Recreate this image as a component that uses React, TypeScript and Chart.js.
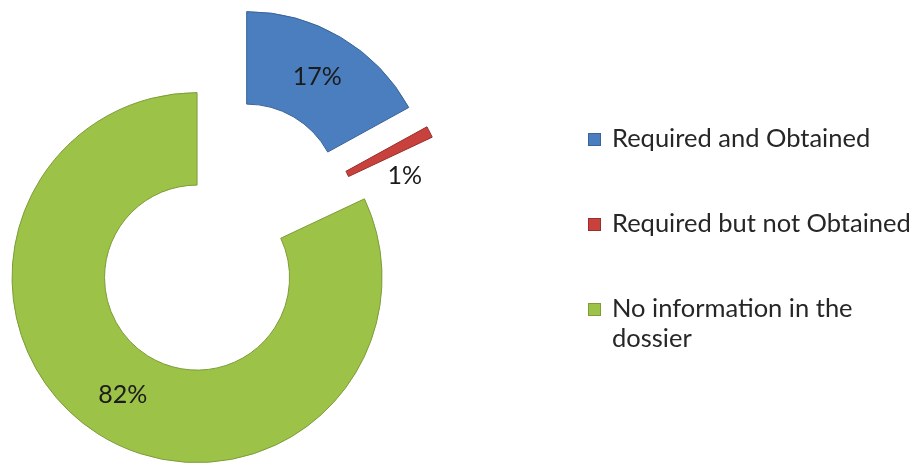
import React, { useEffect, useRef } from 'react';
import { Chart, registerables } from 'chart.js';

Chart.register(...registerables);

// ---- data ----
const categories = ['Required and Obtained', 'Required but not Obtained', 'No information in the dossier'];
const legendLines = [['Required and Obtained'], ['Required but not Obtained'], ['No information in the', 'dossier']];
const values = [17, 1, 82];
const valueLabels = ['17%', '1%', '82%'];

// ---- style ----
const colors = ['#4A7EBF', '#C9413C', '#9DC248'];
const borders = ['#3A6499', '#97302C', '#7C9C38'];
const EXPLODE = 47.5;
const FONT = 'Lato, "Open Sans", sans-serif';

const explodePlugin = {
  id: 'explode',
  afterDatasetUpdate(chart: any, args: any) {
    const meta = chart.getDatasetMeta(args.index);
    meta.data.forEach((arc: any) => {
      const mid = (arc.startAngle + arc.endAngle) / 2;
      arc.x += Math.cos(mid) * EXPLODE;
      arc.y += Math.sin(mid) * EXPLODE;
    });
  },
};

const valueLabelPlugin = {
  id: 'valueLabels',
  afterDatasetsDraw(chart: any) {
    const ctx = chart.ctx;
    const meta = chart.getDatasetMeta(0);
    ctx.save();
    ctx.font = `25px ${FONT}`;
    ctx.fillStyle = '#1b1b1b';
    ctx.textAlign = 'center';
    ctx.textBaseline = 'middle';
    const total = values.reduce((a, b) => a + b, 0);
    meta.data.forEach((arc: any, i: number) => {
      const mid = (arc.startAngle + arc.endAngle) / 2;
      const r = (arc.innerRadius + arc.outerRadius) / 2;
      let x = arc.x + Math.cos(mid) * r;
      let y = arc.y + Math.sin(mid) * r;
      if (values[i] / total < 0.05) {
        // small slice: put label beside it
        x += -Math.sin(mid) * 28 + Math.cos(mid) * 4;
        y += Math.cos(mid) * 28 + Math.sin(mid) * 4;
      }
      ctx.fillText(valueLabels[i], x, y);
    });
    ctx.restore();
  },
};

const legendPlugin = {
  id: 'sideLegend',
  afterDraw(chart: any) {
    const ctx = chart.ctx;
    const left = chart.chartArea.right + 143;
    const firstBaseline = 147;
    const pitch = 85;
    const lineH = 30;
    ctx.save();
    ctx.font = `25.5px ${FONT}`;
    ctx.textAlign = 'left';
    ctx.textBaseline = 'alphabetic';
    legendLines.forEach((lines, i) => {
      const base = firstBaseline + i * pitch;
      ctx.fillStyle = colors[i];
      ctx.fillRect(left, base - 14, 13, 13);
      ctx.strokeStyle = borders[i];
      ctx.lineWidth = 1;
      ctx.strokeRect(left + 0.5, base - 13.5, 12, 12);
      ctx.fillStyle = '#262626';
      lines.forEach((t, j) => ctx.fillText(t, left + 24, base + j * lineH));
    });
    ctx.restore();
  },
};

export default function App() {
  const ref = useRef<HTMLCanvasElement>(null);
  useEffect(() => {
    if (!ref.current) return;
    const chart = new Chart(ref.current, {
      type: 'doughnut',
      data: {
        labels: categories,
        datasets: [
          {
            data: values,
            backgroundColor: colors,
            borderColor: borders,
            borderWidth: 1,
          },
        ],
      },
      options: {
        responsive: false,
        animation: false,
        events: [],
        radius: 185,
        cutout: '50%',
        layout: { padding: { left: 0, right: 472, top: 9, bottom: 0 } },
        plugins: { legend: { display: false }, tooltip: { enabled: false } },
      } as any,
      plugins: [explodePlugin, valueLabelPlugin, legendPlugin],
    });
    return () => chart.destroy();
  }, []);
  return (
    <div style={{ position: 'absolute', left: 0, top: 0, width: 917, height: 466, background: '#fff' }}>
      <canvas ref={ref} width={917} height={466} />
    </div>
  );
}
